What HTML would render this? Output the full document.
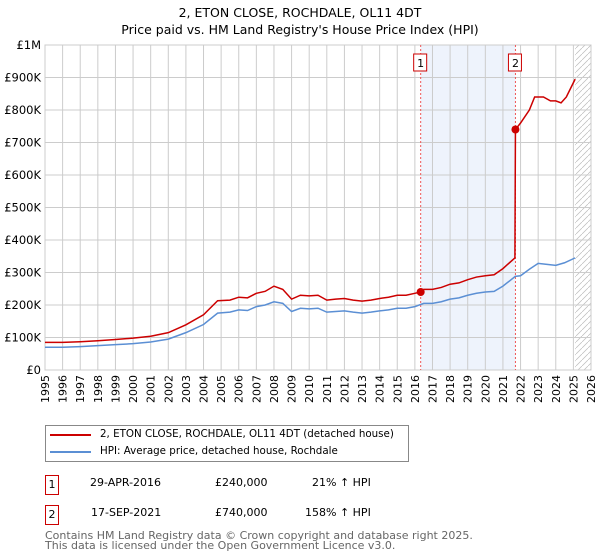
<!DOCTYPE html>
<html><head><meta charset="utf-8"><style>
body{margin:0;background:#fff;font-family:"DejaVu Sans","Liberation Sans",sans-serif;}
#wrap{position:relative;width:600px;height:560px;overflow:hidden;}
.t{position:absolute;font-size:11.5px;color:#000;white-space:nowrap;}
.box{position:absolute;border:1px solid #c00;width:12px;height:18px;font-size:11px;text-align:center;line-height:18px;}
</style></head><body><div id="wrap">
<div class="t" style="left:0;width:600px;text-align:center;top:4px;font-size:12.5px;line-height:17px">2, ETON CLOSE, ROCHDALE, OL11 4DT<br>Price paid vs. HM Land Registry's House Price Index (HPI)</div>
<svg id="chart" width="600" height="420" style="position:absolute;left:0;top:0"></svg>
<div style="position:absolute;left:45px;top:425px;width:362px;height:35px;border:1px solid #888"></div>
<div style="position:absolute;left:50px;top:434px;width:41px;height:2px;background:#c00"></div>
<div class="t" style="left:100px;top:428px;font-size:10.3px">2, ETON CLOSE, ROCHDALE, OL11 4DT (detached house)</div>
<div style="position:absolute;left:50px;top:451px;width:41px;height:2px;background:#5b8fd4"></div>
<div class="t" style="left:100px;top:445px;font-size:10.3px">HPI: Average price, detached house, Rochdale</div>
<div class="box" style="left:45px;top:475px">1</div>
<div class="t" style="left:90px;top:476px;font-size:11px">29-APR-2016</div>
<div class="t" style="left:215px;top:476px;font-size:11px">£240,000</div>
<div class="t" style="left:312px;top:476px;font-size:11px">21% ↑ HPI</div>
<div class="box" style="left:45px;top:505px">2</div>
<div class="t" style="left:91px;top:506px;font-size:11px">17-SEP-2021</div>
<div class="t" style="left:215px;top:506px;font-size:11px">£740,000</div>
<div class="t" style="left:305px;top:506px;font-size:11px">158% ↑ HPI</div>
<div class="t" style="left:45px;top:531px;font-size:11px;color:#666;line-height:10px">Contains HM Land Registry data © Crown copyright and database right 2025.<br>This data is licensed under the Open Government Licence v3.0.</div>
</div>
<script>
const years=[1995,1996,1997,1998,1999,2000,2001,2002,2003,2004,2004.8,2005.5,2006,2006.5,2007,2007.5,2008,2008.5,2009,2009.5,2010,2010.5,2011,2011.5,2012,2012.5,2013,2013.5,2014,2014.5,2015,2015.5,2016,2016.5,2017,2017.5,2018,2018.5,2019,2019.5,2020,2020.5,2021,2021.7,2022,2022.5,2023,2023.5,2024,2024.5,2025.1];
const hpi=[70,70,72,75,78,81,86,95,115,140,175,178,185,183,195,200,210,205,180,190,188,190,178,180,182,178,175,178,182,185,190,190,195,205,205,210,218,222,230,236,240,242,258,288,290,310,328,325,322,330,345];
const propYears=[1995,1996,1997,1998,1999,2000,2001,2002,2003,2004,2004.8,2005.5,2006,2006.5,2007,2007.5,2008,2008.5,2009,2009.5,2010,2010.5,2011,2011.5,2012,2012.5,2013,2013.5,2014,2014.5,2015,2015.5,2016,2016.33,2016.5,2017,2017.5,2018,2018.5,2019,2019.5,2020,2020.5,2021,2021.68,2021.71,2022,2022.5,2022.8,2023.3,2023.7,2024,2024.3,2024.6,2025.1];
const propVals=[85,85,87,90,94,98,104,115,139,170,213,215,224,222,236,242,258,248,218,230,228,230,215,218,220,215,212,215,220,224,230,230,236,240,248,248,254,264,268,278,286,290,293,312,345,740,760,800,840,840,828,828,822,840,895];
const sales=[[2016.33,240],[2021.71,740]];
const yTicks=[0,100,200,300,400,500,600,700,800,900,1000];
const yLabels=["£0","£100K","£200K","£300K","£400K","£500K","£600K","£700K","£800K","£900K","£1M"];
const xTicks=[];for(let y=1995;y<=2026;y++)xTicks.push(y);
const X0=45,X1=591,Y0=370,Y1=45;
const xs=v=>X0+(v-1995)/31*(X1-X0);
const ys=v=>Y0-v/1000*(Y0-Y1);
const svg=document.getElementById('chart');const NS='http://www.w3.org/2000/svg';
function mk(tag,at,name){const e=document.createElementNS(NS,tag);for(const k in at)e.setAttribute(k,at[k]);


svg.appendChild(e);return e;}
mk('rect',{x:xs(2016.33),y:Y1,width:xs(2021.71)-xs(2016.33),height:Y0-Y1,fill:'#eef3fc'},'sale-period-shade');
const defs=document.createElementNS(NS,'defs');defs.innerHTML='<pattern id="h" width="6" height="6" patternUnits="userSpaceOnUse"><path d="M0,6 L6,0" stroke="#bbb" stroke-width="0.7"/></pattern>';svg.appendChild(defs);
mk('rect',{x:xs(2025.1),y:Y1,width:X1-xs(2025.1),height:Y0-Y1,fill:'url(#h)'},'forecast-hatch');
yTicks.forEach((v,i)=>{mk('line',{x1:X0,x2:X1,y1:ys(v),y2:ys(v),stroke:'#ccc'},'y-gridline');
const t=mk('text',{x:X0-4,y:ys(v)+4,'text-anchor':'end','font-size':'11.5','font-family':'DejaVu Sans,sans-serif'},'y-tick-label');t.textContent=yLabels[i];});
xTicks.forEach(v=>{mk('line',{x1:xs(v),x2:xs(v),y1:Y1,y2:Y0,stroke:'#ccc'},'x-gridline');
const px=xs(v)+4,py=Y0+5;
const t=mk('text',{x:px,y:py,'text-anchor':'end','font-size':'11','font-family':'DejaVu Sans,sans-serif',transform:'rotate(-90 '+px+' '+py+')'},'x-tick-label');t.textContent=v;});
mk('rect',{x:X0,y:Y1,width:X1-X0,height:Y0-Y1,fill:'none',stroke:'#ccc'},'plot-frame');
sales.forEach((s,i)=>{mk('line',{x1:xs(s[0]),x2:xs(s[0]),y1:Y1,y2:Y0,stroke:'#e55','stroke-dasharray':'2,2'},'sale-marker-line');
mk('rect',{x:xs(s[0])-7,y:54,width:13,height:17,fill:'#fff',stroke:'#c00'},'sale-label-box');
const t=mk('text',{x:xs(s[0]),y:67,'text-anchor':'middle','font-size':'11','font-family':'DejaVu Sans,sans-serif'},'sale-label');t.textContent=i+1;});
mk('polyline',{points:years.map((y,i)=>xs(y)+','+ys(hpi[i])).join(' '),fill:'none',stroke:'#5b8fd4','stroke-width':1.5},'hpi-line');
mk('polyline',{points:propYears.map((y,i)=>xs(y)+','+ys(propVals[i])).join(' '),fill:'none',stroke:'#c00','stroke-width':1.5},'property-line');
sales.forEach(s=>mk('circle',{cx:xs(s[0]),cy:ys(s[1]),r:4,fill:'#c00'},'sale-point'));
</script></body></html>
